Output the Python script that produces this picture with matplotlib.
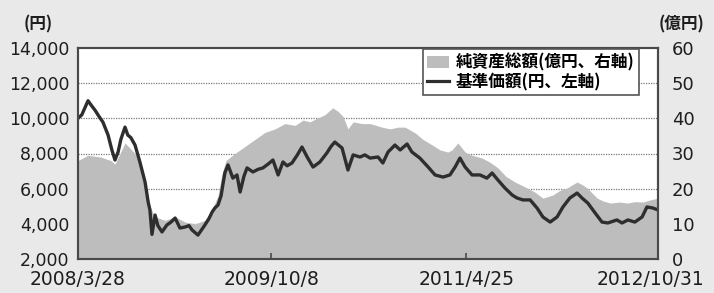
import pandas as pd
import matplotlib
matplotlib.use('Agg')
import matplotlib.pyplot as plt
import matplotlib.transforms as mtransforms
from matplotlib.patches import Patch
from matplotlib.lines import Line2D

# 基準価額(円、左軸)
nav_dates = ['2008-03-28', '2008-04-08', '2008-04-26', '2008-05-07', '2008-05-16', '2008-05-28',
             '2008-06-08', '2008-06-23', '2008-07-04', '2008-07-13', '2008-07-22', '2008-07-30',
             '2008-08-11', '2008-08-19', '2008-08-28', '2008-09-09', '2008-09-23', '2008-10-08',
             '2008-10-17', '2008-10-22', '2008-10-28', '2008-11-06', '2008-11-14', '2008-11-26',
             '2008-12-10', '2008-12-22', '2009-01-03', '2009-01-17', '2009-02-01', '2009-02-12',
             '2009-02-21', '2009-03-10', '2009-03-22', '2009-03-30', '2009-04-11', '2009-04-20',
             '2009-04-28', '2009-05-07', '2009-05-16', '2009-05-21', '2009-05-27', '2009-06-05',
             '2009-06-19', '2009-07-01', '2009-07-10', '2009-07-21', '2009-07-30', '2009-08-16',
             '2009-08-31', '2009-09-14', '2009-09-29', '2009-10-13', '2009-10-28', '2009-11-11',
             '2009-11-23', '2009-12-07', '2009-12-22', '2010-01-05', '2010-01-20', '2010-02-06',
             '2010-02-26', '2010-03-18', '2010-03-30', '2010-04-10', '2010-05-01', '2010-05-18',
             '2010-06-02', '2010-06-22', '2010-07-06', '2010-07-21', '2010-08-13', '2010-08-27',
             '2010-09-11', '2010-10-01', '2010-10-16', '2010-11-05', '2010-11-19', '2010-12-12',
             '2011-01-05', '2011-01-25', '2011-02-17', '2011-03-09', '2011-03-24', '2011-04-07',
             '2011-04-22', '2011-05-12', '2011-06-04', '2011-06-24', '2011-07-09', '2011-07-26',
             '2011-08-15', '2011-09-05', '2011-09-19', '2011-10-06', '2011-10-27', '2011-11-16',
             '2011-12-03', '2011-12-24', '2012-01-13', '2012-01-30', '2012-02-19', '2012-03-11',
             '2012-03-25', '2012-04-11', '2012-05-02', '2012-05-22', '2012-06-08', '2012-07-04',
             '2012-07-19', '2012-08-05', '2012-08-25', '2012-09-15', '2012-09-29', '2012-10-16',
             '2012-10-31']
nav_values = [10000, 10200, 11000, 10700, 10470, 10100,
              9790, 9050, 8200, 7630, 8085, 8800,
              9500, 9050, 8900, 8480, 7520, 6380,
              5240, 4800, 3400, 4500, 3900, 3540,
              3930, 4100, 4330, 3760, 3820, 3900,
              3650, 3360, 3700, 3930, 4300, 4670,
              4900, 5070, 5600, 6210, 6900, 7350,
              6600, 6780, 5810, 6700, 7180, 6950,
              7100, 7180, 7400, 7630, 6780, 7520,
              7300, 7460, 7900, 8370, 7800, 7230,
              7520, 8030, 8400, 8650, 8310, 7060,
              7920, 7800, 7920, 7740, 7800, 7460,
              8085, 8480, 8200, 8540, 8085, 7740,
              7230, 6780, 6660, 6780, 7230, 7740,
              7230, 6780, 6780, 6600, 6890, 6490,
              6040, 5640, 5470, 5360, 5360, 4900,
              4390, 4100, 4390, 4960, 5470, 5750,
              5470, 5180, 4620, 4100, 4050, 4220,
              4050, 4220, 4100, 4390, 4960, 4900,
              4790]

# 純資産総額(億円、右軸)
aum_dates = ['2008-03-28', '2008-04-26', '2008-06-01', '2008-07-01', '2008-07-13', '2008-08-11',
             '2008-09-09', '2008-09-23', '2008-10-08', '2008-10-22', '2008-11-06', '2008-12-05',
             '2009-01-03', '2009-02-01', '2009-03-02', '2009-03-30', '2009-04-20', '2009-05-07',
             '2009-05-18', '2009-05-30', '2009-06-25', '2009-07-24', '2009-08-22', '2009-09-20',
             '2009-10-19', '2009-11-17', '2009-12-16', '2010-01-08', '2010-01-28', '2010-02-17',
             '2010-03-12', '2010-04-04', '2010-04-19', '2010-05-04', '2010-05-18', '2010-06-02',
             '2010-06-28', '2010-07-21', '2010-08-24', '2010-09-17', '2010-10-10', '2010-10-30',
             '2010-11-29', '2010-12-21', '2011-01-17', '2011-02-09', '2011-03-03', '2011-03-15',
             '2011-04-01', '2011-04-22', '2011-05-12', '2011-06-10', '2011-07-03', '2011-07-26',
             '2011-08-18', '2011-09-13', '2011-10-18', '2011-11-10', '2011-12-03', '2012-01-01',
             '2012-01-21', '2012-02-11', '2012-03-11', '2012-03-28', '2012-04-09', '2012-05-08',
             '2012-05-25', '2012-06-15', '2012-07-13', '2012-08-03', '2012-08-25', '2012-09-18',
             '2012-10-08', '2012-10-31']
aum_values = [28, 29.5, 29, 28, 27, 33,
              30, 27, 22, 15, 12, 11,
              12, 10.5, 10, 11, 14, 18,
              24, 28, 30, 32, 34, 36,
              37, 38.5, 38, 39.5, 39, 40,
              41, 43, 42, 40.5, 37, 39,
              38.5, 38.5, 37.5, 37, 37.5, 37.5,
              35.8, 34, 32.4, 31, 30.4, 31,
              33, 30.4, 29.5, 28.7, 27.5, 25.9,
              23.5, 21.9, 20.2, 19, 17.3, 18.2,
              19.5, 20.2, 21.9, 21, 20.2, 17.3,
              16.5, 15.9, 16.2, 15.9, 16.3, 16.2,
              16.8, 17.3]

tick_dates = ['2008-03-28', '2009-10-08', '2011-04-25', '2012-10-31']
tick_labels = ['2008/3/28', '2009/10/8', '2011/4/25', '2012/10/31']
left_ticks = [2000, 4000, 6000, 8000, 10000, 12000, 14000]
right_ticks = [0, 10, 20, 30, 40, 50, 60]

_BG = '#e9e9e9'
_AREA = '#bdbdbd'
_LINE = '#2e2e2e'
_SPINE = '#4a4a4a'
_TEXT = '#1e1e1e'
_CJK = ['Noto Sans CJK JP', 'DejaVu Sans']

nav_x = pd.to_datetime(nav_dates)
aum_x = pd.to_datetime(aum_dates)
ticks_x = pd.to_datetime(tick_dates)

fig = plt.figure(figsize=(7.14, 2.93), dpi=100, facecolor=_BG)
ax1 = fig.add_axes([78 / 714, 34 / 293, 580 / 714, 211 / 293])
ax2 = ax1.twinx()

# area + grid on the right axis (behind), line on the left axis (in front)
ax2.set_zorder(1)
ax1.set_zorder(2)
ax1.patch.set_visible(False)
ax2.patch.set_visible(True)
ax2.patch.set_facecolor('white')

for g in right_ticks[1:-1]:
    ax2.axhline(g, color='#7a7a7a', lw=0.9, ls=(0, (1, 1)), zorder=0)
ax2.fill_between(aum_x, aum_values, 0, color=_AREA, lw=0, zorder=1)
ax2.set_ylim(0, 60)
ax2.set_yticks(right_ticks)
ax2.tick_params(axis='y', length=0, pad=10, labelsize=13, labelcolor=_TEXT)

ax1.plot(nav_x, nav_values, color=_LINE, lw=2.4, solid_joinstyle='round')
ax1.set_ylim(2000, 14000)
ax1.set_yticks(left_ticks)
ax1.set_yticklabels(['{:,}'.format(v) for v in left_ticks])
ax1.tick_params(axis='y', length=0, pad=6, labelsize=12.5, labelcolor=_TEXT)

ax1.set_xlim(ticks_x[0], ticks_x[-1])
ax1.set_xticks(ticks_x)
ax1.set_xticklabels(tick_labels)
ax1.tick_params(axis='x', direction='in', length=4, width=1.2, color=_SPINE,
                pad=8, labelsize=13.5, labelcolor=_TEXT)

# 右端の日付は少し左へ
last = ax1.get_xticklabels()[-1]
last.set_transform(last.get_transform() +
                   mtransforms.ScaledTranslation(-8 / 100, 0, fig.dpi_scale_trans))

for ax in (ax1, ax2):
    for s in ax.spines.values():
        s.set_color(_SPINE)
        s.set_linewidth(1.5)

handles = [Patch(facecolor=_AREA, edgecolor='none'),
           Line2D([], [], color=_LINE, lw=2.3)]
labels = ['純資産総額(億円、右軸)', '基準価額(円、左軸)']
leg = ax1.legend(handles, labels, loc='upper left', bbox_to_anchor=(0.595, 0.995),
                 prop={'family': _CJK, 'weight': 'bold', 'size': 12},
                 frameon=True, fancybox=False, framealpha=1, edgecolor='#555555',
                 borderpad=0.25, handlelength=1.3, handleheight=0.7, handletextpad=0.4,
                 labelspacing=0.1, borderaxespad=0)
leg.get_frame().set_linewidth(1.2)

fig.text(38 / 714, 1 - 24 / 293, '(円)', ha='center', va='center', fontsize=12,
         family=_CJK, weight='bold', color=_TEXT)
fig.text(681 / 714, 1 - 24 / 293, '(億円)', ha='center', va='center', fontsize=12,
         family=_CJK, weight='bold', color=_TEXT)

fig.savefig('out.png', dpi=100, facecolor=_BG)
